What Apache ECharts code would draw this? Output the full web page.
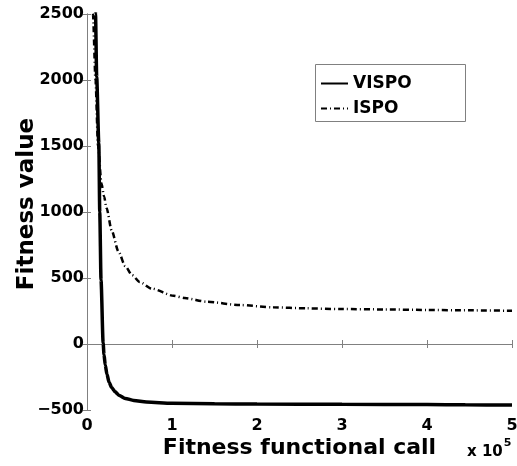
<!DOCTYPE html>
<html>
<head>
<meta charset="utf-8">
<script src="https://cdn.jsdelivr.net/npm/echarts@6/dist/echarts.min.js"></script>
<style>html,body{margin:0;padding:0;background:#fff}#c{width:517px;height:466px}</style>
</head>
<body>
<div id="c"></div>
<script>
// x in units of 10^5 fitness functional calls
const visopX = [0.09, 0.10, 0.114, 0.139, 0.15, 0.165, 0.19, 0.20, 0.215, 0.235, 0.26, 0.29, 0.33, 0.38, 0.45, 0.55, 0.7, 1.0, 1.5, 2.0, 3.0, 4.0, 4.45, 5.0];
const visopY = [2700, 2500, 2025, 1520, 1000, 485, 8, -80, -160, -230, -290, -330, -362, -390, -412, -428, -440, -449, -453, -455, -457, -458, -461, -463];
const ispoX = [0.05, 0.07, 0.10, 0.13, 0.17, 0.20, 0.23, 0.29, 0.37, 0.45, 0.53, 0.62, 0.76, 1.02, 1.15, 1.41, 1.8, 2.19, 2.58, 2.98, 3.5, 4.0, 4.5, 5.0];
const ispoY = [2700, 2500, 2000, 1500, 1217, 1120, 1030, 860, 700, 590, 522, 470, 420, 365, 348, 320, 295, 278, 270, 265, 262, 258, 255, 252];
const xTicks = [0, 1, 2, 3, 4, 5];
const yTicks = [-500, 0, 500, 1000, 1500, 2000, 2500];
const seriesNames = ['VISPO', 'ISPO'];

const pair = (xs, ys) => xs.map((x, i) => [x, ys[i]]);
const F = 'DejaVu Sans';
const axisGray = '#808080';
const plain = v => String(v).replace('-', '\u2212');

const chart = echarts.init(document.getElementById('c'));
chart.setOption({
  animation: false,
  backgroundColor: '#fff',
  grid: { left: 87, right: 5, top: 14, bottom: 56, containLabel: false, outerBoundsMode: 'none' },
  legend: {
    orient: 'vertical', left: 315, top: 70,
    itemWidth: 27, itemHeight: 10, itemGap: 8,
    itemStyle: { opacity: 0 },
    textStyle: { fontFamily: F, fontWeight: 'bold', fontSize: 17, color: '#000' },
    data: seriesNames
  },
  xAxis: [{
    type: 'value', min: xTicks[0], max: xTicks[xTicks.length - 1], interval: 1,
    name: 'Fitness functional call', nameLocation: 'middle', nameGap: 27, nameMoveOverlap: false,
    nameTextStyle: { fontFamily: F, fontWeight: 'bold', fontSize: 22, color: '#000' },
    axisLine: { show: true, lineStyle: { color: axisGray, width: 1 } },
    axisTick: { show: true, inside: true, length: 4, lineStyle: { color: axisGray } },
    axisLabel: { fontFamily: F, fontWeight: 'bold', fontSize: 16, color: '#000', margin: 8, formatter: plain },
    splitLine: { show: false }
  }, {
    type: 'value', position: 'top', min: 0, max: 5, interval: 1,
    axisLine: { show: true, lineStyle: { color: axisGray, width: 1 } },
    axisTick: { show: true, inside: true, length: 4, lineStyle: { color: axisGray } },
    axisLabel: { show: false }, splitLine: { show: false }
  }],
  yAxis: [{
    type: 'value', min: yTicks[0], max: yTicks[yTicks.length - 1], interval: 500,
    name: 'Fitness value', nameLocation: 'middle', nameGap: 48, nameMoveOverlap: false,
    nameTextStyle: { fontFamily: F, fontWeight: 'bold', fontSize: 23, color: '#000', padding: [0, 0, 0, 16] },
    axisLine: { show: true, lineStyle: { color: axisGray, width: 1 } },
    axisTick: { show: true, inside: true, length: 4, lineStyle: { color: axisGray } },
    axisLabel: { fontFamily: F, fontWeight: 'bold', fontSize: 16, color: '#000', margin: 3, formatter: plain },
    splitLine: { show: false }
  }, {
    type: 'value', position: 'right', min: -500, max: 2500, interval: 500,
    axisLine: { show: true, lineStyle: { color: axisGray, width: 1 } },
    axisTick: { show: true, inside: true, length: 4, lineStyle: { color: axisGray } },
    axisLabel: { show: false }, splitLine: { show: false }
  }],
  graphic: [{
    type: 'rect', shape: { x: 315.5, y: 64.5, width: 150, height: 57 },
    style: { fill: 'none', stroke: axisGray, lineWidth: 1 }, z: 1
  }, {
    type: 'text', left: 467, top: 438,
    style: {
      text: '{b|x 10}{s|5}', fill: '#000',
      rich: {
        b: { fontFamily: F, fontWeight: 'bold', fontSize: 15, padding: [10, 0, 0, 0] },
        s: { fontFamily: F, fontWeight: 'bold', fontSize: 11, padding: [0, 0, 8, 1] }
      }
    }
  }],
  series: [{
    name: seriesNames[0], type: 'line', data: pair(visopX, visopY),
    symbol: 'none', smooth: 0.25, smoothMonotone: 'x',
    lineStyle: { color: '#000', width: 3.5 }, itemStyle: { color: '#000' }, z: 3
  }, {
    name: seriesNames[1], type: 'line', data: pair(ispoX, ispoY),
    symbol: 'none', smooth: 0.25, smoothMonotone: 'x',
    lineStyle: { color: '#000', width: 2.5, type: [6, 3, 1, 3] }, itemStyle: { color: '#000' }, z: 2
  }]
});
</script>
</body>
</html>
